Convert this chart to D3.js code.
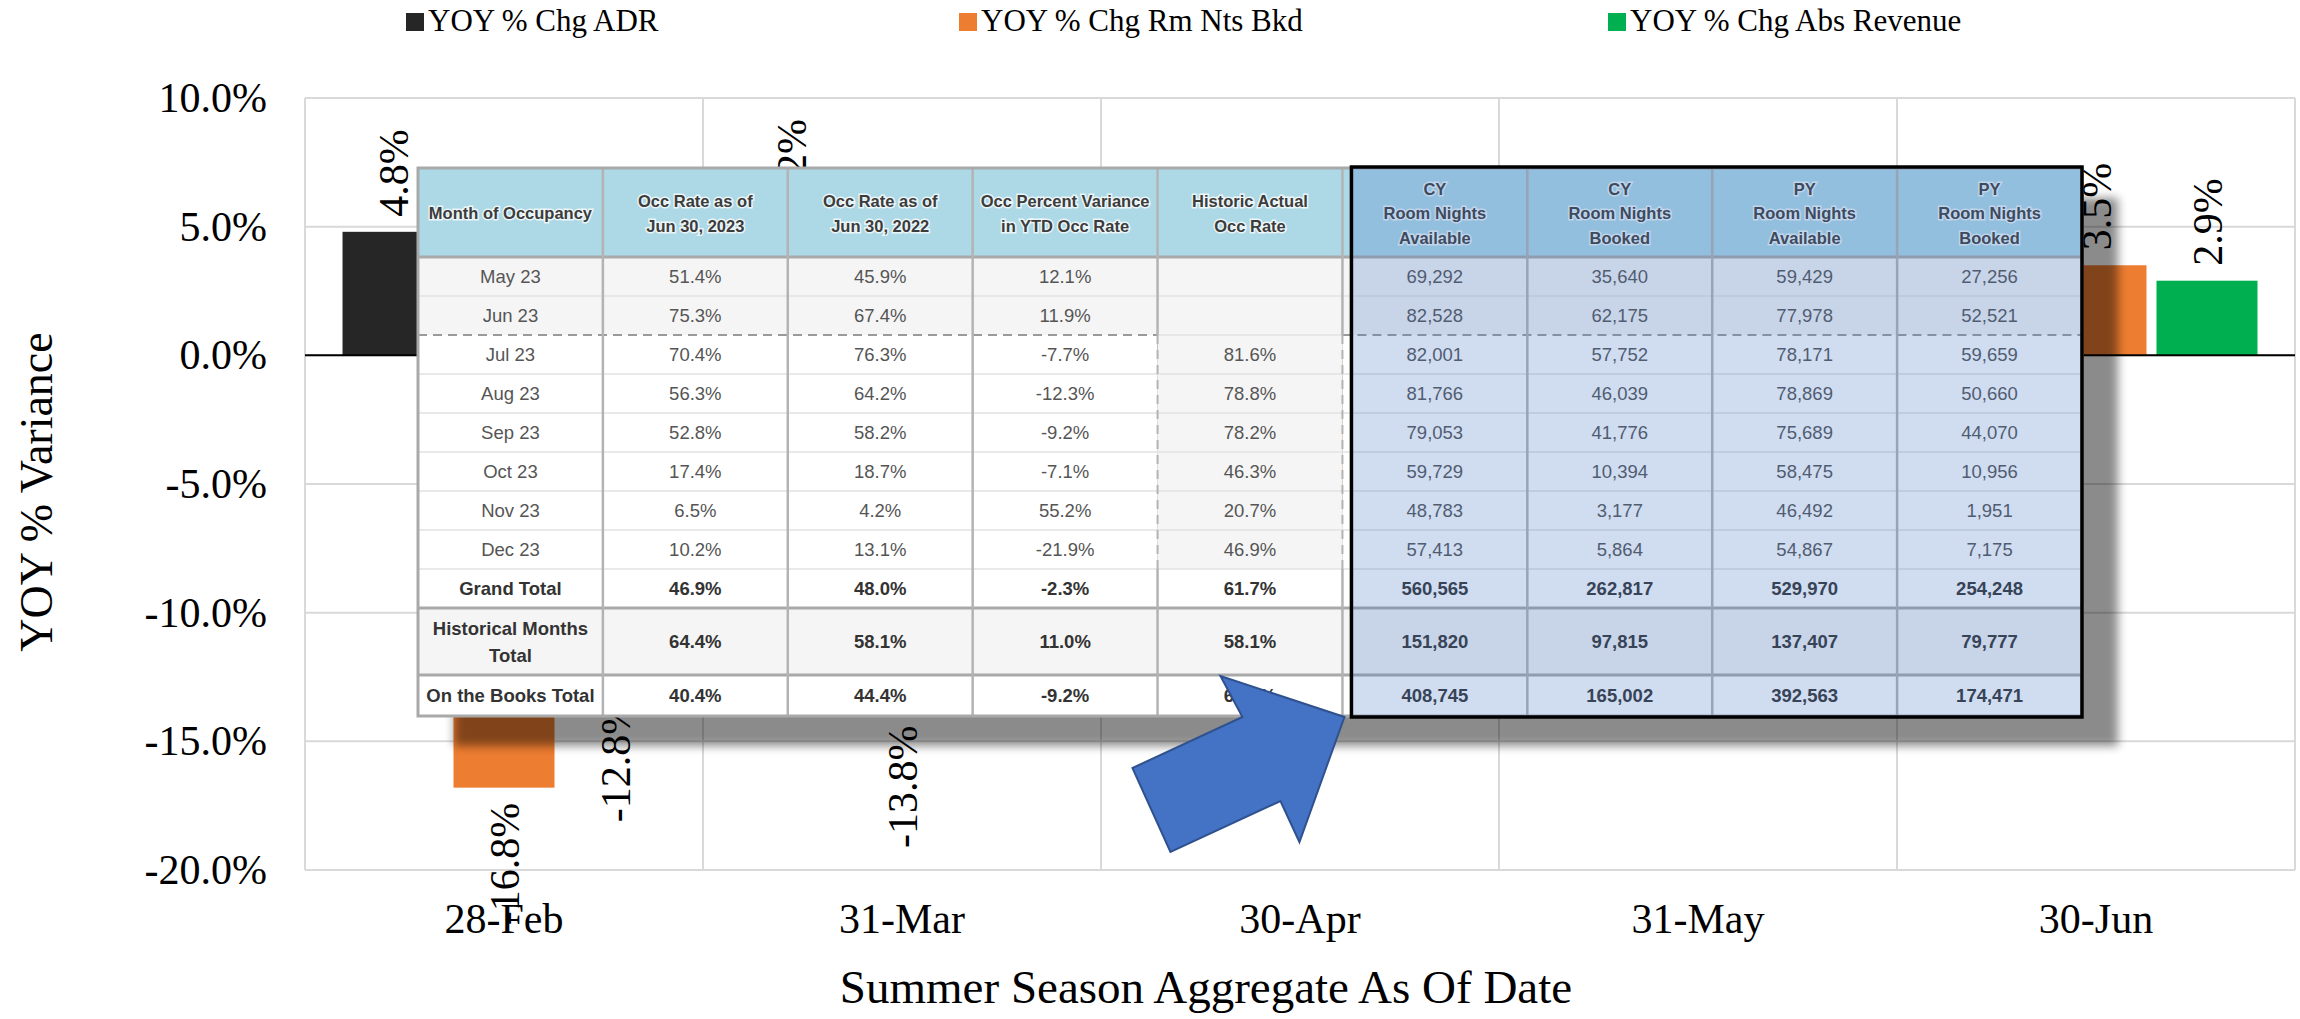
<!DOCTYPE html>
<html><head><meta charset="utf-8">
<script src="https://cdn.jsdelivr.net/npm/d3@7"></script>
<style>body{margin:0;background:#fff}svg{display:block}</style>
</head><body>
<svg id="c" width="2300" height="1019"></svg>
<script>
// ---------- chart data ----------
const categories = ["28-Feb", "31-Mar", "30-Apr", "31-May", "30-Jun"];
const seriesNames = ["YOY % Chg ADR", "YOY % Chg Rm Nts Bkd", "YOY % Chg Abs Revenue"];
const seriesColors = ["#262626", "#ed7d31", "#00b050"];
const adrChg = [4.8, 5.2, 2.5, 1.0, -0.6];
const rmNtsChg = [-16.8, -13.8, -6.0, -1.0, 3.5];
const absRevChg = [-12.8, -9.3, -3.6, 0.0, 2.9];
const yTicks = [10, 5, 0, -5, -10, -15, -20];
const yAxisTitle = "YOY % Variance";
const xAxisTitle = "Summer Season Aggregate As Of Date";

// ---------- table data ----------
const tableHeaders = [
  ["Month of Occupancy"],
  ["Occ Rate as of", "Jun 30, 2023"],
  ["Occ Rate as of", "Jun 30, 2022"],
  ["Occ Percent Variance", "in YTD Occ Rate"],
  ["Historic Actual", "Occ Rate"],
  ["CY", "Room Nights", "Available"],
  ["CY", "Room Nights", "Booked"],
  ["PY", "Room Nights", "Available"],
  ["PY", "Room Nights", "Booked"]
];
const monthLabels = ["May 23","Jun 23","Jul 23","Aug 23","Sep 23","Oct 23","Nov 23","Dec 23","Grand Total",["Historical Months","Total"],"On the Books Total"];
const occRate2023 = ["51.4%","75.3%","70.4%","56.3%","52.8%","17.4%","6.5%","10.2%","46.9%","64.4%","40.4%"];
const occRate2022 = ["45.9%","67.4%","76.3%","64.2%","58.2%","18.7%","4.2%","13.1%","48.0%","58.1%","44.4%"];
const occVariance = ["12.1%","11.9%","-7.7%","-12.3%","-9.2%","-7.1%","55.2%","-21.9%","-2.3%","11.0%","-9.2%"];
const histOccRate = ["","","81.6%","78.8%","78.2%","46.3%","20.7%","46.9%","61.7%","58.1%","62.1%"];
const cyAvailable = ["69,292","82,528","82,001","81,766","79,053","59,729","48,783","57,413","560,565","151,820","408,745"];
const cyBooked = ["35,640","62,175","57,752","46,039","41,776","10,394","3,177","5,864","262,817","97,815","165,002"];
const pyAvailable = ["59,429","77,978","78,171","78,869","75,689","58,475","46,492","54,867","529,970","137,407","392,563"];
const pyBooked = ["27,256","52,521","59,659","50,660","44,070","10,956","1,951","7,175","254,248","79,777","174,471"];
const boldRows = [false,false,false,false,false,false,false,false,true,true,true];

// ---------- layout ----------
const svg = d3.select("#c");
svg.append("rect").attr("width",2300).attr("height",1019).attr("fill","#fff");
const plot = {left:305, right:2295, top:98, bottom:870};
const serif = "'Liberation Serif', 'Times New Roman', serif";
const sans = "'Liberation Sans', Arial, sans-serif";

const x0 = d3.scaleBand().domain(categories).range([plot.left, plot.right]).padding(0);
const x1 = d3.scaleBand().domain([0,1,2]).range([0, x0.bandwidth()]).paddingInner(0.09).paddingOuter(0.338);
const y = d3.scaleLinear().domain([-20, 10]).range([plot.bottom, plot.top]);
const series = [adrChg, rmNtsChg, absRevChg];

// gridlines
const g = svg.append("g");
g.selectAll("line.h").data(yTicks).join("line")
  .attr("x1", plot.left).attr("x2", plot.right)
  .attr("y1", d => y(d)).attr("y2", d => y(d))
  .attr("stroke", "#d9d9d9").attr("stroke-width", 2);
g.selectAll("line.v").data(categories.concat(["__end"])).join("line")
  .attr("x1", (d,i) => i < categories.length ? x0(d) : plot.right)
  .attr("x2", (d,i) => i < categories.length ? x0(d) : plot.right)
  .attr("y1", plot.top).attr("y2", plot.bottom)
  .attr("stroke", "#d9d9d9").attr("stroke-width", 2);

// bars
const barData = [];
categories.forEach((c, ci) => series.forEach((s, si) => barData.push({c, si, v: s[ci]})));
g.selectAll("rect.bar").data(barData).join("rect")
  .attr("x", d => x0(d.c) + x1(d.si))
  .attr("width", x1.bandwidth())
  .attr("y", d => y(Math.max(0, d.v)))
  .attr("height", d => Math.abs(y(d.v) - y(0)))
  .attr("fill", d => seriesColors[d.si]);

// zero line
g.append("line").attr("x1", plot.left).attr("x2", plot.right)
  .attr("y1", y(0)).attr("y2", y(0)).attr("stroke", "#000").attr("stroke-width", 2);

// data labels (rotated)
g.selectAll("text.lab").data(barData).join("text")
  .attr("transform", d => {
    const cx = x0(d.c) + x1(d.si) + x1.bandwidth()/2;
    const yy = d.v >= 0 ? y(d.v) - 15 : y(d.v) + 15;
    return `translate(${cx},${yy}) rotate(-90)`;
  })
  .attr("text-anchor", d => d.v >= 0 ? "start" : "end")
  .attr("dy", "0.35em")
  .attr("font-family", serif).attr("font-size", 42).attr("fill", "#000")
  .text(d => d.v.toFixed(1) + "%");

// ---------- table ----------
const tbl = {left:418, right:2082, top:168};
const rowHeights = [89, 39,39,39,39,39,39,39,39,39, 67, 41];
const rowY = [tbl.top]; rowHeights.forEach(h => rowY.push(rowY[rowY.length-1] + h));
const tblBottom = rowY[rowY.length-1];
const colX = d3.scaleBand().domain(d3.range(9)).range([tbl.left, tbl.right]);
const cw = colX.bandwidth();
const columns = [monthLabels, occRate2023, occRate2022, occVariance, histOccRate, cyAvailable, cyBooked, pyAvailable, pyBooked];

const defs = svg.append("defs");
defs.append("filter").attr("id","blur").attr("x","-10%").attr("y","-10%").attr("width","120%").attr("height","120%")
  .append("feGaussianBlur").attr("stdDeviation", 5);

const t = svg.append("g");
// shadow
t.append("rect").attr("x", tbl.left + 36).attr("y", tbl.top + 30)
  .attr("width", tbl.right - tbl.left).attr("height", tblBottom - tbl.top)
  .attr("fill", "#000").attr("opacity", 0.45).attr("filter", "url(#blur)");

// header background
t.append("rect").attr("x", tbl.left).attr("y", tbl.top).attr("width", tbl.right - tbl.left)
  .attr("height", rowHeights[0]).attr("fill", "#add8e6");
// body cells
const rowFill = ["#f5f5f5","#f5f5f5","#fff","#fff","#fff","#fff","#fff","#fff","#fff","#f5f5f5","#fff"];
for (let r = 0; r < 11; r++) {
  for (let c = 0; c < 9; c++) {
    let f = rowFill[r];
    if (c === 4 && r >= 2 && r <= 7) f = "#f5f5f5";
    t.append("rect").attr("x", colX(c)).attr("y", rowY[r+1]).attr("width", cw).attr("height", rowHeights[r+1]).attr("fill", f);
  }
}
// horizontal row lines
for (let r = 2; r <= 11; r++) {
  const thick = (r === 1 || r === 10 || r === 11);
  if (r === 3) {
    // dashed separator between Jun and Jul
    t.append("line").attr("x1", tbl.left).attr("x2", colX(4)).attr("y1", rowY[r]).attr("y2", rowY[r])
      .attr("stroke", "#9a9a9a").attr("stroke-width", 2).attr("stroke-dasharray", "9,6");
    t.append("line").attr("x1", colX(4)).attr("x2", colX(5)).attr("y1", rowY[r]).attr("y2", rowY[r])
      .attr("stroke", "#e2e2e2").attr("stroke-width", 1.5);
    t.append("line").attr("x1", colX(5)).attr("x2", tbl.right).attr("y1", rowY[r]).attr("y2", rowY[r])
      .attr("stroke", "#9a9a9a").attr("stroke-width", 2).attr("stroke-dasharray", "9,6");
    continue;
  }
  t.append("line").attr("x1", tbl.left).attr("x2", tbl.right).attr("y1", rowY[r]).attr("y2", rowY[r])
    .attr("stroke", thick ? "#a9a9a9" : "#e2e2e2").attr("stroke-width", thick ? 3 : 1.5);
}
// header bottom line
t.append("line").attr("x1", tbl.left).attr("x2", tbl.right).attr("y1", rowY[1]).attr("y2", rowY[1])
  .attr("stroke", "#a9a9a9").attr("stroke-width", 3);
// vertical column lines
for (let c = 1; c < 9; c++) {
  const xx = colX(c);
  if (c === 4 || c === 5) {
    t.append("line").attr("x1", xx).attr("x2", xx).attr("y1", tbl.top).attr("y2", rowY[3]).attr("stroke", "#b3b3b3").attr("stroke-width", 2.5);
    t.append("line").attr("x1", xx).attr("x2", xx).attr("y1", rowY[3]).attr("y2", rowY[9])
      .attr("stroke", "#b3b3b3").attr("stroke-width", 2).attr("stroke-dasharray", "9,6");
    t.append("line").attr("x1", xx).attr("x2", xx).attr("y1", rowY[9]).attr("y2", tblBottom).attr("stroke", "#b3b3b3").attr("stroke-width", 2.5);
  } else {
    t.append("line").attr("x1", xx).attr("x2", xx).attr("y1", tbl.top).attr("y2", tblBottom).attr("stroke", "#b3b3b3").attr("stroke-width", 2.5);
  }
}
// outer border
t.append("rect").attr("x", tbl.left).attr("y", tbl.top).attr("width", tbl.right - tbl.left)
  .attr("height", tblBottom - tbl.top).attr("fill", "none").attr("stroke", "#a9a9a9").attr("stroke-width", 3);

// header text
tableHeaders.forEach((lines, c) => {
  const cy = tbl.top + rowHeights[0]/2 + 1;
  const lh = 24.5;
  lines.forEach((ln, k) => {
    t.append("text").attr("x", colX(c) + cw/2).attr("y", cy + (k - (lines.length-1)/2) * lh)
      .attr("dy", "0.35em").attr("text-anchor", "middle")
      .attr("font-family", sans).attr("font-weight", "bold").attr("font-size", 16.5)
      .attr("fill", "#3c3c3c").attr("stroke", "rgba(255,255,255,0.75)").attr("stroke-width", 3)
      .attr("paint-order", "stroke").text(ln);
  });
});
// body text
columns.forEach((col, c) => {
  col.forEach((val, r) => {
    const lines = Array.isArray(val) ? val : [val];
    const cy = rowY[r+1] + rowHeights[r+1]/2;
    lines.forEach((ln, k) => {
      t.append("text").attr("x", colX(c) + cw/2).attr("y", cy + (k - (lines.length-1)/2) * 27)
        .attr("dy", "0.36em").attr("text-anchor", "middle")
        .attr("font-family", sans).attr("font-size", 18.5)
        .attr("font-weight", boldRows[r] ? "bold" : "normal")
        .attr("fill", boldRows[r] ? "#333" : "#555").text(ln);
    });
  });
});

// highlight overlay on room-night columns
const box = {x: colX(5) + 9, y: tbl.top - 1, x2: tbl.right, y2: tblBottom + 1};
t.append("rect").attr("x", box.x).attr("y", box.y).attr("width", box.x2 - box.x).attr("height", box.y2 - box.y)
  .attr("fill", "rgba(68,114,196,0.25)").attr("stroke", "#000").attr("stroke-width", 3.5);

// block arrow pointing at the box corner
const arrowShape = [[0,0],[-45,125],[-64,84],[-174,135],[-212,51],[-102,0],[-124,-41]];
const tip = [box.x - 7, box.y2];
t.append("path")
  .attr("d", d3.line()(arrowShape.map(p => [tip[0] + p[0], tip[1] + p[1]])) + "Z")
  .attr("fill", "#4472c4").attr("stroke", "#2f528f").attr("stroke-width", 2);

// ---------- axes text ----------
svg.append("g").selectAll("text").data(yTicks).join("text")
  .attr("x", 267).attr("y", d => y(d)).attr("dy", "0.33em").attr("text-anchor", "end")
  .attr("font-family", serif).attr("font-size", 42).attr("fill", "#000")
  .text(d => d.toFixed(1) + "%");

svg.append("g").selectAll("text").data(categories).join("text")
  .attr("x", d => x0(d) + x0.bandwidth()/2).attr("y", 933).attr("text-anchor", "middle")
  .attr("font-family", serif).attr("font-size", 42).attr("fill", "#000").text(d => d);

svg.append("text").attr("x", 1206).attr("y", 1003).attr("text-anchor", "middle")
  .attr("font-family", serif).attr("font-size", 47).attr("fill", "#000").text(xAxisTitle);

svg.append("text").attr("transform", "translate(52,492) rotate(-90)").attr("text-anchor", "middle")
  .attr("font-family", serif).attr("font-size", 46).attr("fill", "#000").text(yAxisTitle);

// legend
const legendX = [406, 959, 1608];
const lg = svg.append("g").selectAll("g").data(seriesNames).join("g")
  .attr("transform", (d,i) => `translate(${legendX[i]},13)`);
lg.append("rect").attr("width", 18).attr("height", 18).attr("fill", (d,i) => seriesColors[i]);
lg.append("text").attr("x", 22).attr("y", 18).attr("font-family", serif).attr("font-size", 31)
  .attr("fill", "#000").text(d => d);
</script>
</body></html>
